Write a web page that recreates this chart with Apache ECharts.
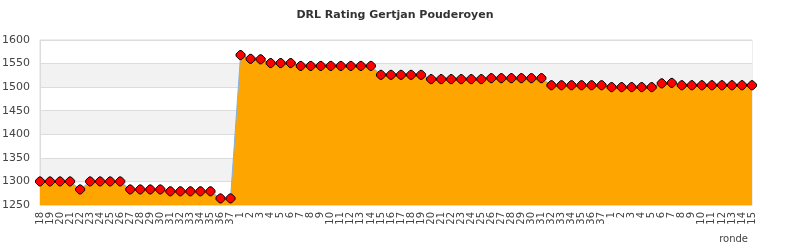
<!DOCTYPE html>
<html>
<head>
<meta charset="utf-8">
<script src="https://cdn.jsdelivr.net/npm/echarts@6/dist/echarts.min.js"></script>
<style>html,body{margin:0;padding:0;background:#fff}#c{width:790px;height:250px}</style>
</head>
<body>
<div id="c"></div>
<script>
const titleText = 'DRL Rating Gertjan Pouderoyen';
const xAxisName = 'ronde';
const rounds = [
  '18','19','20','21','22','23','24','25','26','27','28','29','30','31','32','33','34','35','36','37',
  '1','2','3','4','5','6','7','8','9','10','11','12','13','14','15','16','17','18','19','20','21','22','23','24','25','26','27','28','29','30','31','32','33','34','35','36','37',
  '1','2','3','4','5','6','7','8','9','10','11','12','13','14','15'
];
const ratings = [
  1300,1300,1300,1300,1283,1300,1300,1300,1300,1283,1283,1283,1283,1279,1279,1279,1279,1279,1264,1264,
  1568,1560,1559,1551,1551,1551,1545,1545,1545,1545,1545,1545,1545,1545,1526,1526,1526,1526,1526,1517,1517,1517,1517,1517,1517,1519,1519,1519,1519,1519,1519,1504,1504,1504,1504,1504,1504,
  1500,1500,1500,1500,1500,1508,1509,1504,1504,1504,1504,1504,1504,1504,1504
];
const yMin = 1250, yMax = 1600, yStep = 50;

const chart = echarts.init(document.getElementById('c'), null, {renderer:'canvas'});
chart.setOption({
  animation: false,
  textStyle: {fontFamily: 'DejaVu Sans'},
  title: {
    text: titleText, left: 'center', top: 5,
    textStyle: {fontSize: 11, fontWeight: 'bold', color: '#333', fontFamily: 'DejaVu Sans'}
  },
  grid: {left: 40, right: 38, top: 40, bottom: 45, containLabel: false, outerBoundsMode: 'none',
         show: true, borderColor: '#dcdcdc', borderWidth: 1, backgroundColor: 'transparent'},
  xAxis: {
    type: 'category', data: rounds, boundaryGap: false,
    name: xAxisName, nameLocation: 'end', nameGap: 0,
    nameTextStyle: {fontSize: 10, color: '#444', align: 'right', verticalAlign: 'top', padding: [29, 4, 0, 0]},
    axisLine: {show: true, lineStyle: {color: '#dcdcdc'}},
    axisTick: {show: false},
    axisLabel: {interval: 0, rotate: 90, fontSize: 10, color: '#444', margin: 7, hideOverlap: false}
  },
  yAxis: {
    type: 'value', min: yMin, max: yMax, interval: yStep,
    axisLine: {show: true, lineStyle: {color: '#dcdcdc'}},
    axisTick: {show: false},
    axisLabel: {fontSize: 11, color: '#444', margin: 10, formatter: v => String(v)},
    splitLine: {show: true, lineStyle: {color: '#dcdcdc'}},
    splitArea: {show: true, areaStyle: {color: ['#ffffff', '#f2f2f2']}}
  },
  series: [{
    type: 'line', data: ratings,
    symbol: 'path://M3,0 L5,0 L8,3 L8,5 L5,8 L3,8 L0,5 L0,3 Z',
    symbolSize: 9, showAllSymbol: true,
    itemStyle: {color: '#ff0000', borderColor: '#000', borderWidth: 1},
    lineStyle: {color: '#7fb2e5', width: 1},
    areaStyle: {color: '#ffa500', opacity: 1, origin: 'start'}
  }]
});
</script>
</body>
</html>
